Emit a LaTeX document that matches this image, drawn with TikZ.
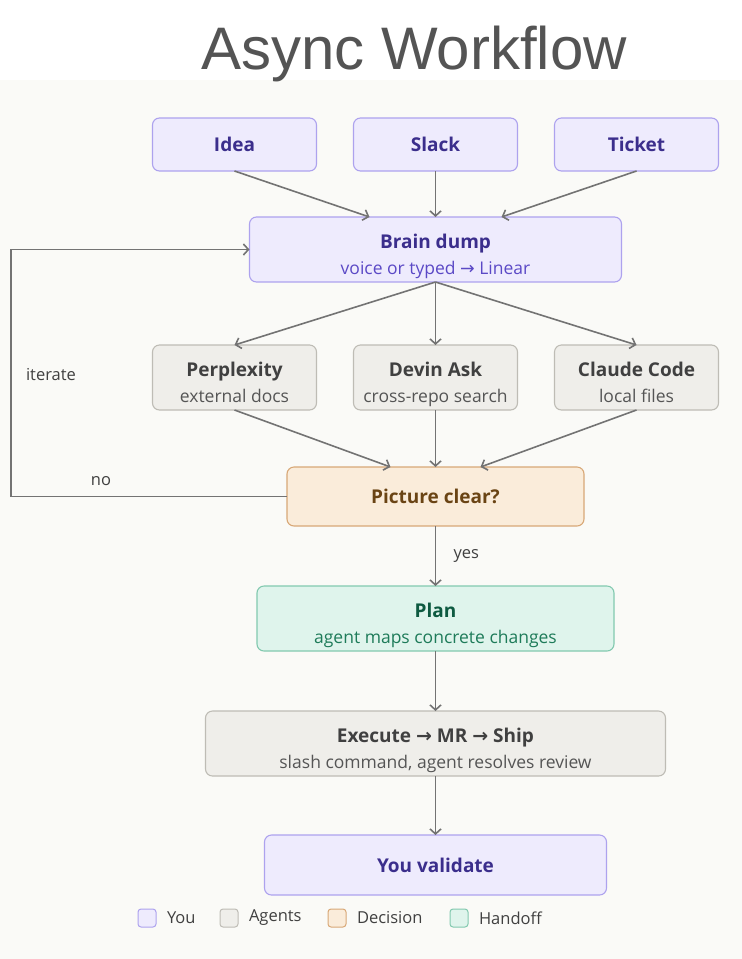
\documentclass[tikz,border=0pt]{standalone}
\usepackage{fontspec}
\setmainfont{Open Sans}
\newfontfamily\titlefont{Liberation Sans}
\newfontfamily\symfont{DejaVu Sans}
\usepackage{xcolor}
\usetikzlibrary{arrows.meta,positioning}
\definecolor{pagebg}{HTML}{FAFAF7}
\definecolor{youfill}{HTML}{EEEBFD}
\definecolor{youdraw}{HTML}{ADA2EE}
\definecolor{youtext}{HTML}{3B2E8C}
\definecolor{yousub}{HTML}{5B49C6}
\definecolor{agentfill}{HTML}{EFEEEA}
\definecolor{agentdraw}{HTML}{BEBCB5}
\definecolor{agenttext}{HTML}{404040}
\definecolor{agentsub}{HTML}{555555}
\definecolor{decfill}{HTML}{FAECDA}
\definecolor{decdraw}{HTML}{D8A877}
\definecolor{dectext}{HTML}{6A4414}
\definecolor{handfill}{HTML}{DFF4EC}
\definecolor{handdraw}{HTML}{82C9AF}
\definecolor{handtext}{HTML}{0E5A41}
\definecolor{handsub}{HTML}{1E7B59}
\definecolor{arrowgray}{HTML}{737373}
\newcommand{\toarrow}{{\symfont →}}

\begin{document}
\begin{tikzpicture}[
    x=1bp, y=-1bp,
    box/.style={rounded corners=7bp, line width=1.1bp, align=center,
        inner sep=0pt, outer sep=0pt,
        font=\fontsize{19bp}{22bp}\selectfont\bfseries},
    oneline/.style={text height=14bp, text depth=0bp},
    twoline/.style={text height=15bp, text depth=18bp},
    you/.style={box, draw=youdraw, fill=youfill, text=youtext},
    agent/.style={box, draw=agentdraw, fill=agentfill, text=agenttext},
    decision/.style={box, draw=decdraw, fill=decfill, text=dectext},
    handoff/.style={box, draw=handdraw, fill=handfill, text=handtext},
    subtext/.style={anchor=base, inner sep=0pt,
        font=\fontsize{17.5bp}{21bp}\selectfont},
    flow/.style={draw=arrowgray, line width=1.6bp,
        -{Straight Barb[length=5bp,width=11bp,line width=1.6bp]}},
    flowlabel/.style={text=agenttext, font=\fontsize{16.5bp}{20bp}\selectfont},
    swatch/.style={rounded corners=3bp, line width=1bp, minimum size=18bp,
        inner sep=0pt},
]
\useasboundingbox (0,0) rectangle (742,959);
\fill[white] (0,0) rectangle (742,80);
\fill[pagebg] (0,80) rectangle (742,959);

\node[anchor=base, text=black!67, font=\titlefont\fontsize{60bp}{66bp}\selectfont]
    (title) at (414,69) {Async Workflow};

% inputs
\node[you, oneline, minimum width=164bp, minimum height=53bp] (slack) at (435.5,144.5) {Slack};
\node[you, oneline, minimum width=164bp, minimum height=53bp, left=37bp of slack] (idea) {Idea};
\node[you, oneline, minimum width=164bp, minimum height=53bp, right=37bp of slack] (ticket) {Ticket};

\node[you, twoline, minimum width=372bp, minimum height=65bp, below=46bp of slack] (brain) {Brain dump};
\node[subtext, text=yousub] (brainsub) at ([yshift=-24.5bp]brain.center) {voice or typed \toarrow{} Linear};

% research agents
\node[agent, twoline, minimum width=164bp, minimum height=65bp, below=63bp of brain] (devin) {Devin Ask};
\node[agent, twoline, minimum width=164bp, minimum height=65bp, left=37bp of devin] (perplexity) {Perplexity};
\node[agent, twoline, minimum width=164bp, minimum height=65bp, right=37bp of devin] (claude) {Claude Code};
\node[subtext, text=agentsub] (devinsub) at ([yshift=-24.5bp]devin.center) {cross-repo search};
\node[subtext, text=agentsub] (perplexitysub) at ([yshift=-24.5bp]perplexity.center) {external docs};
\node[subtext, text=agentsub] (claudesub) at ([yshift=-24.5bp]claude.center) {local files};

\node[decision, oneline, minimum width=297bp, minimum height=59bp, below=57bp of devin] (clear) {Picture clear?};

\node[handoff, twoline, minimum width=357bp, minimum height=65bp, below=60bp of clear] (plan) {Plan};
\node[subtext, text=handsub] (plansub) at ([yshift=-24.5bp]plan.center) {agent maps concrete changes};
\node[agent, twoline, minimum width=460bp, minimum height=65bp, below=60bp of plan] (execute)
    {Execute \toarrow{} MR \toarrow{} Ship};
\node[subtext, text=agentsub] (executesub) at ([yshift=-24.5bp]execute.center) {slash command, agent resolves review};
\node[you, oneline, minimum width=342bp, minimum height=60bp, below=59bp of execute] (validate) {You validate};

\draw[flow] (idea.south) -- ([xshift=-66bp]brain.north);
\draw[flow] (slack) -- (brain);
\draw[flow] (ticket.south) -- ([xshift=66bp]brain.north);
\draw[flow] (brain.south) -- (perplexity.north);
\draw[flow] (brain) -- (devin);
\draw[flow] (brain.south) -- (claude.north);
\draw[flow] (perplexity.south) -- ([xshift=-45bp]clear.north);
\draw[flow] (devin) -- (clear);
\draw[flow] (claude.south) -- ([xshift=45bp]clear.north);
\draw[flow] (clear) -- (plan) node[flowlabel, midway, right=14bp] (yes) {yes};
\draw[flow] (plan) -- (execute);
\draw[flow] (execute) -- (validate);

% loop back
\draw[flow, line width=1.2bp] (clear.west) -- ++(-276,0) |- (brain.west);
\node[flowlabel] (no) at (101,481) {no};
\node[flowlabel] (iterate) at (51,375) {iterate};

% legend
\node[swatch, draw=youdraw, fill=youfill] (keyyou) at (147,918) {};
\node[flowlabel, right=7bp of keyyou] (keyyoutext) {You};
\node[swatch, draw=agentdraw, fill=agentfill] (keyagent) at (229,918) {};
\node[flowlabel, right=7bp of keyagent] (keyagenttext) {Agents};
\node[swatch, draw=decdraw, fill=decfill] (keydec) at (337,918) {};
\node[flowlabel, right=7bp of keydec] (keydectext) {Decision};
\node[swatch, draw=handdraw, fill=handfill] (keyhand) at (459,918) {};
\node[flowlabel, right=7bp of keyhand] (keyhandtext) {Handoff};
\end{tikzpicture}
\end{document}
